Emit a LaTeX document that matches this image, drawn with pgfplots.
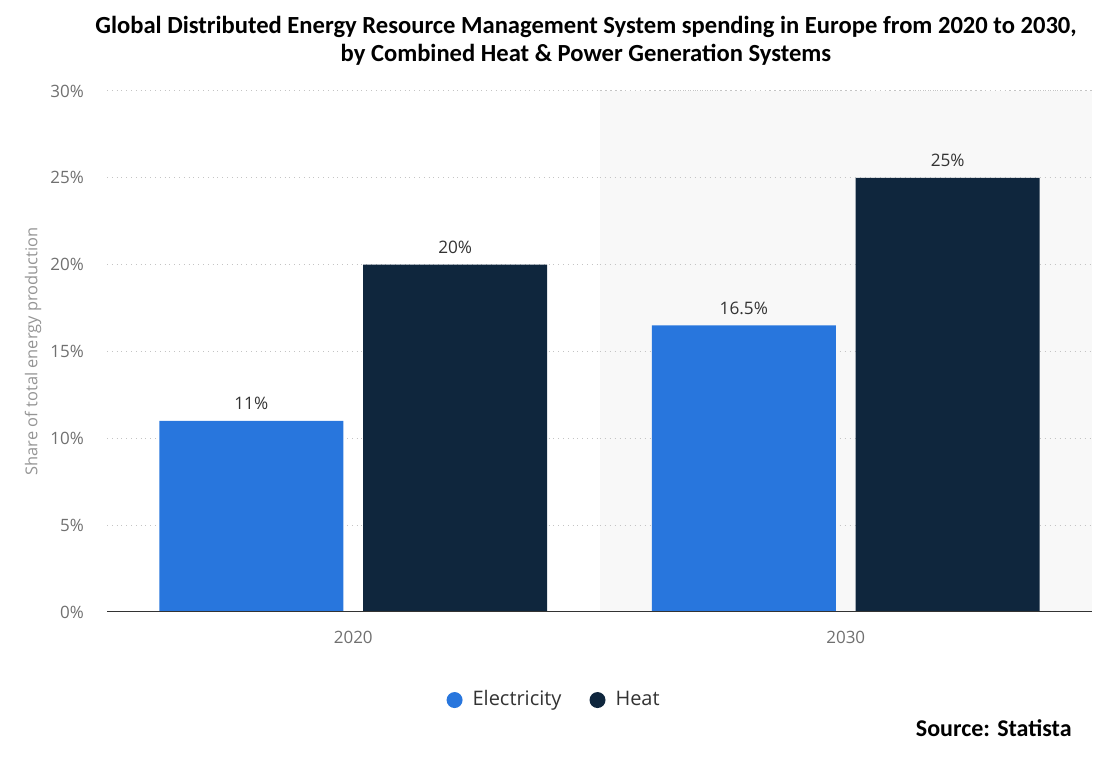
\documentclass[border=0pt]{standalone}
\usepackage{pgfplots}
\pgfplotsset{compat=1.18}
\usepackage{fontspec}
\setmainfont{Open Sans}
\newfontfamily\titlefont{Carlito}

\definecolor{elec}{HTML}{2876DD}
\definecolor{heat}{HTML}{0F263D}
\definecolor{tickgray}{HTML}{707070}
\definecolor{labgray}{HTML}{959595}
\definecolor{gridgray}{HTML}{C4C4C4}
\definecolor{bandgray}{HTML}{F8F8F8}
\definecolor{valgray}{HTML}{333333}

\begin{document}
\begin{tikzpicture}
% 1 px of the reference = 0.5pt
\useasboundingbox (0pt,0pt) rectangle (559pt,390pt);

% title
\node[font=\titlefont\bfseries\fontsize{12.3}{14}\selectfont, align=center] at (293pt,369.5pt)
  {Global Distributed Energy Resource Management System spending in Europe from 2020 to 2030,\\
   by Combined Heat \& Power Generation Systems};

\begin{axis}[
  at={(53.5pt,84pt)}, anchor=south west,
  scale only axis,
  width=492.5pt, height=260.5pt,
  xmin=-0.5, xmax=1.5,
  ymin=0, ymax=30,
  xtick={0,1}, xticklabels={2020,2030},
  ytick={0,5,...,30},
  yticklabel={\pgfmathprintnumber{\tick}\%},
  /pgf/number format/assume math mode=true,
  axis x line*=bottom,
  axis y line*=left,
  y axis line style={draw=none},
  x axis line style={draw=none},
  major tick length=0pt,
  ymajorgrids,
  grid style={gridgray, dotted, line width=0.5pt},
  ticklabel style={font=\fontsize{8.5}{10}\selectfont, text=tickgray},
  xticklabel style={yshift=-6pt},
  yticklabel style={xshift=-8pt},
  ylabel={Share of total energy production},
  every axis y label/.style={at={(axis description cs:-0.0751,0.5)}, rotate=90, anchor=center,
    font=\fontsize{8.2}{10}\selectfont, text=labgray},
  nodes near coords={\pgfmathprintnumber{\pgfplotspointmeta}\%},
  nodes near coords style={font=\fontsize{8.6}{10}\selectfont, text=valgray, yshift=2pt},
  legend columns=2,
  legend style={draw=none, fill=none, at={(0.458,-0.169)}, anchor=center,
    font=\fontsize{10}{12}\selectfont, text=valgray,
    nodes={text height=0.72em, text depth=0.22em, inner xsep=5pt},
    /tikz/every even column/.append style={column sep=9pt}},
  legend image code/.code={\fill[#1] (-0.5pt,0pt) circle (4pt);},
]
% shaded band behind 2030, with its grid lines drawn again on top of it
\fill[bandgray] (axis cs:0.5,0) rectangle (axis cs:1.5,30);
\pgfplotsinvokeforeach{5,10,...,30}{
  \draw[gridgray, dotted, line width=0.5pt] (axis cs:0.5,#1) -- (axis cs:1.5,#1);
}

\addplot[ybar, bar width=92pt, bar shift=0pt, fill=elec, draw=none]
  coordinates {(-0.207,11) (0.793,16.5)};
\addlegendentry{Electricity}
\addplot[ybar, bar width=92pt, bar shift=0pt, fill=heat, draw=none]
  coordinates {(0.207,20) (1.207,25)};
\addlegendentry{Heat}

\draw[valgray, line width=0.8pt] (axis cs:-0.5,0) -- (axis cs:1.5,0);
\end{axis}

\node[font=\titlefont\bfseries\fontsize{12}{14}\selectfont, anchor=east, inner sep=0pt] at (536pt,26pt) {Source: Statista};
\end{tikzpicture}
\end{document}
